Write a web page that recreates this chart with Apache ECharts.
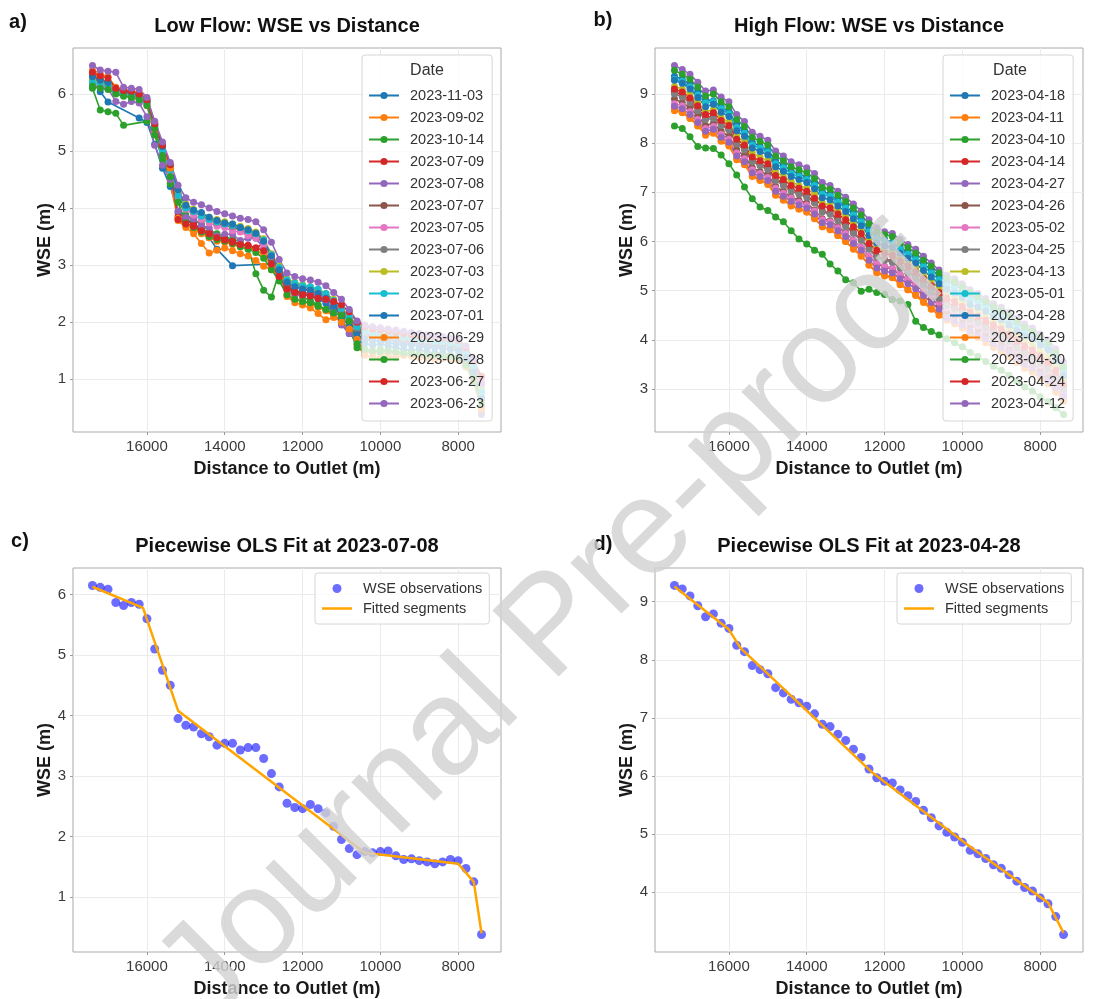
<!DOCTYPE html>
<html>
<head>
<meta charset="utf-8">
<script src="https://cdn.jsdelivr.net/npm/echarts@6/dist/echarts.min.js"></script>
<style>
  html, body { margin: 0; padding: 0; background: #ffffff; }
  #chart { width: 1103px; height: 999px; }
</style>
</head>
<body>
<div id="chart"></div>
<script>
// ---- River nodes: distance to outlet (m) ----
const distance = [17400,17200,17000,16800,16600,16400,16200,16000,15800,15600,
  15400,15200,15000,14800,14600,14400,14200,14000,13800,13600,
  13400,13200,13000,12800,12600,12400,12200,12000,11800,11600,
  11400,11200,11000,10800,10600,10400,10200,10000,9800,9600,
  9400,9200,9000,8800,8600,8400,8200,8000,7800,7600,7400];

const xTicks = [16000, 14000, 12000, 10000, 8000];
const yTicksLow = [1, 2, 3, 4, 5, 6];
const yTicksHigh = [3, 4, 5, 6, 7, 8, 9];
const yTicksFitLow = [1, 2, 3, 4, 5, 6];
const yTicksFitHigh = [4, 5, 6, 7, 8, 9];

// ---- Low flow water surface elevation (m) per date ----
const lowDates = ['2023-11-03','2023-09-02','2023-10-14','2023-07-09','2023-07-08',
  '2023-07-07','2023-07-05','2023-07-06','2023-07-03','2023-07-02',
  '2023-07-01','2023-06-29','2023-06-28','2023-06-27','2023-06-23'];

const low_20231103 = [6.22,6.04,5.86,null,null,null,5.58,5.50,5.12,4.70,
  4.38,3.92,3.80,3.74,3.62,3.48,3.28,null,2.99,null,
  null,null,null,3.02,2.84,2.62,2.55,2.50,2.46,2.40,
  2.33,2.15,1.98,1.80,1.68,1.62,1.60,1.62,1.58,1.55,
  1.52,1.50,1.52,1.48,1.45,1.46,1.42,1.40,1.30,1.05,0.62];
const low_20230902 = [6.35,6.28,6.20,6.02,5.98,5.95,5.92,5.80,5.30,4.90,
  4.45,3.78,3.66,3.55,3.38,3.21,3.26,3.30,3.25,3.20,
  3.16,3.08,2.98,2.92,2.78,2.45,2.34,2.30,2.25,2.15,
  2.04,2.08,2.02,1.85,1.60,1.42,1.38,1.37,1.40,1.38,
  1.42,1.40,1.38,1.36,1.35,1.38,1.36,1.33,1.25,0.98,0.45];
const low_20231014 = [6.10,5.72,5.69,5.66,5.45,null,null,5.52,5.28,4.85,
  4.42,4.15,3.88,3.80,3.72,3.60,3.55,3.50,3.45,3.42,
  3.30,2.85,2.56,2.44,2.88,2.62,2.50,2.44,2.38,2.30,
  2.22,2.12,2.02,1.88,1.55,1.50,1.48,1.52,1.50,1.46,
  1.44,1.45,1.42,1.40,1.41,1.38,1.40,1.36,1.22,0.95,0.50];
const low_20230709 = [6.28,6.24,6.18,6.05,6.00,6.02,5.96,5.85,5.42,5.02,
  4.65,3.85,3.78,3.72,3.62,3.58,3.50,3.46,3.42,3.36,
  3.35,3.30,3.38,3.10,2.88,2.62,2.55,2.52,2.50,2.42,
  2.40,2.30,2.18,2.02,1.86,1.78,1.75,1.72,1.74,1.70,
  1.68,1.66,1.65,1.62,1.60,1.62,1.58,1.55,1.42,1.18,0.92];
const low_20230708 = [6.15,6.12,6.09,5.87,5.82,5.87,5.84,5.60,5.10,4.75,
  4.50,3.95,3.84,3.81,3.70,3.65,3.51,3.54,3.54,3.43,
  3.47,3.47,3.29,3.04,2.82,2.55,2.48,2.46,2.53,2.46,
  2.39,2.17,1.95,1.80,1.70,1.75,1.73,1.75,1.76,1.68,
  1.62,1.63,1.60,1.58,1.55,1.58,1.62,1.60,1.47,1.25,0.38];
const low_20230707 = [6.32,6.26,6.20,6.08,6.02,6.04,5.98,5.86,5.40,5.05,
  4.68,4.25,4.02,3.92,3.86,3.80,3.72,3.70,3.66,3.62,
  3.55,3.50,3.40,3.12,2.90,2.68,2.62,2.58,2.55,2.52,
  2.44,2.30,2.16,2.00,1.85,1.76,1.74,1.72,1.70,1.68,
  1.66,1.65,1.62,1.60,1.58,1.60,1.56,1.55,1.40,1.15,0.62];
const low_20230705 = [6.18,6.14,6.12,6.05,6.00,5.98,5.95,5.85,5.48,4.98,
  4.62,4.20,3.98,3.88,3.80,3.74,3.68,3.66,3.60,3.58,
  3.52,3.48,3.36,3.15,2.92,2.70,2.64,2.60,2.58,2.52,
  2.46,2.34,2.22,2.06,1.90,1.82,1.80,1.78,1.76,1.74,
  1.72,1.70,1.70,1.68,1.66,1.65,1.64,1.62,1.50,1.28,0.98];
const low_20230706 = [6.26,6.22,6.18,6.06,6.04,6.02,5.98,5.88,5.44,5.06,
  4.70,4.28,4.02,3.95,3.90,3.82,3.75,3.74,3.68,3.66,
  3.60,3.56,3.44,3.18,2.94,2.72,2.66,2.62,2.60,2.55,
  2.48,2.36,2.22,2.04,1.88,1.80,1.78,1.75,1.74,1.72,
  1.70,1.68,1.66,1.65,1.62,1.62,1.60,1.58,1.45,1.18,0.70];
const low_20230703 = [6.24,6.20,6.16,6.04,6.00,5.98,5.94,5.86,5.46,5.06,
  4.72,4.30,4.08,3.98,3.90,3.84,3.80,3.76,3.72,3.68,
  3.64,3.58,3.46,3.20,2.98,2.76,2.70,2.66,2.62,2.56,
  2.50,2.40,2.26,2.10,1.94,1.86,1.84,1.82,1.80,1.78,
  1.76,1.74,1.72,1.70,1.68,1.68,1.66,1.64,1.52,1.30,0.85];
const low_20230702 = [6.20,6.18,6.14,6.02,5.98,5.96,5.92,5.84,5.44,5.00,
  4.66,4.22,4.00,3.94,3.86,3.80,3.76,3.72,3.70,3.66,
  3.60,3.55,3.44,3.18,2.96,2.74,2.68,2.64,2.62,2.58,
  2.50,2.38,2.24,2.08,1.92,1.84,1.82,1.80,1.78,1.76,
  1.74,1.72,1.70,1.69,1.66,1.66,1.64,1.62,1.48,1.22,0.78];
const low_20230701 = [6.30,6.24,6.20,6.08,6.04,6.02,5.96,5.88,5.46,5.08,
  4.74,4.32,4.05,3.96,3.92,3.84,3.78,3.74,3.72,3.66,
  3.62,3.56,3.42,3.16,2.92,2.70,2.62,2.58,2.56,2.50,
  2.42,2.28,2.10,1.92,1.78,1.70,1.68,1.66,1.64,1.62,
  1.60,1.60,1.58,1.56,1.55,1.54,1.52,1.50,1.38,1.12,0.66];
const low_20230629 = [6.42,6.36,6.30,6.12,6.08,6.06,6.02,5.92,5.50,5.12,
  4.70,3.82,3.70,3.62,3.55,3.48,3.42,3.40,3.36,3.32,
  3.30,3.26,3.18,2.98,2.78,2.48,2.40,2.36,2.32,2.26,
  2.20,2.10,2.00,1.88,1.70,1.48,1.46,1.45,1.46,1.44,
  1.42,1.42,1.40,1.38,1.38,1.36,1.35,1.34,1.22,1.00,0.48];
const low_20230628 = [6.14,6.10,6.08,6.00,5.96,5.94,5.90,5.80,5.40,4.92,
  4.55,4.10,3.74,3.66,3.58,3.50,3.45,3.42,3.38,3.32,
  3.28,3.22,3.12,2.92,2.72,2.48,2.40,2.36,2.34,2.28,
  2.22,2.16,2.12,2.02,1.62,1.52,1.50,1.48,1.50,1.48,
  1.46,1.45,1.44,1.42,1.42,1.40,1.40,1.38,1.25,1.02,0.58];
const low_20230627 = [6.38,6.32,6.28,6.10,6.06,6.05,6.00,5.90,5.48,5.10,
  4.76,3.80,3.72,3.68,3.60,3.55,3.48,3.44,3.40,3.36,
  3.34,3.30,3.25,3.02,2.80,2.58,2.52,2.48,2.46,2.42,
  2.40,2.36,2.30,2.18,2.00,1.92,1.88,1.86,1.84,1.82,
  1.80,1.78,1.76,1.75,1.74,1.72,1.70,1.68,1.55,1.32,1.05];
const low_20230623 = [6.50,6.42,6.40,6.38,6.12,6.10,6.08,5.94,5.52,5.16,
  4.80,4.40,4.18,4.10,4.06,4.00,3.94,3.90,3.86,3.82,
  3.80,3.76,3.62,3.40,3.10,2.86,2.80,2.76,2.74,2.70,
  2.64,2.52,2.40,2.22,2.02,1.95,1.92,1.90,1.88,1.86,
  1.84,1.82,1.80,1.78,1.76,1.75,1.72,1.70,1.58,1.35,0.92];

const lowValues = [low_20231103, low_20230902, low_20231014, low_20230709, low_20230708,
  low_20230707, low_20230705, low_20230706, low_20230703, low_20230702,
  low_20230701, low_20230629, low_20230628, low_20230627, low_20230623];

// ---- High flow water surface elevation (m) per date ----
const highDates = ['2023-04-18','2023-04-11','2023-04-10','2023-04-14','2023-04-27',
  '2023-04-26','2023-05-02','2023-04-25','2023-04-13','2023-05-01',
  '2023-04-28','2023-04-29','2023-04-30','2023-04-24','2023-04-12'];

const high_20230418 = [9.36,9.30,9.20,9.04,8.88,8.86,8.74,8.64,8.38,8.24,
  8.02,7.94,7.86,7.64,7.55,7.44,7.38,7.30,7.18,7.02,
  6.96,6.84,6.72,6.58,6.44,6.26,6.10,6.04,5.98,5.88,
  5.78,5.68,5.55,5.42,5.30,5.20,5.12,5.02,4.90,4.82,
  4.74,4.64,4.56,4.46,4.34,4.22,4.14,4.02,3.90,3.70,3.42];
const high_20230411 = [8.66,8.62,8.50,8.35,8.20,8.22,8.06,7.96,7.70,7.58,
  7.36,7.25,7.18,6.96,6.86,6.74,6.66,6.60,6.46,6.30,
  6.24,6.12,6.00,5.84,5.70,5.52,5.38,5.32,5.28,5.14,
  5.02,4.92,4.80,4.66,4.54,4.48,4.40,4.30,4.18,4.10,
  4.00,3.90,3.82,3.72,3.60,3.48,3.40,3.28,3.16,2.98,2.80];
const high_20230410 = [8.35,8.30,8.13,7.93,7.90,7.89,7.76,7.58,7.35,7.11,
  6.87,6.70,6.63,6.50,6.40,6.22,6.05,5.95,5.82,5.74,
  5.54,5.40,5.22,5.16,4.99,5.03,4.96,4.92,4.82,4.79,
  4.72,4.38,4.25,4.17,4.10,4.02,3.94,3.86,3.74,3.66,
  3.56,3.46,3.38,3.28,3.16,3.04,2.96,2.84,2.74,2.62,2.48];
const high_20230414 = [9.05,8.98,8.88,8.70,8.52,8.55,8.40,8.28,8.02,7.90,
  7.66,7.58,7.50,7.28,7.18,7.06,7.00,6.94,6.80,6.62,
  6.58,6.45,6.34,6.18,6.04,5.86,5.70,5.64,5.60,5.48,
  5.38,5.28,5.14,5.00,4.86,4.76,4.68,4.58,4.46,4.38,
  4.30,4.20,4.12,4.02,3.90,3.78,3.70,3.58,3.46,3.28,3.05];
const high_20230427 = [9.58,9.50,9.40,9.24,9.06,9.08,8.94,8.84,8.58,8.44,
  8.22,8.14,8.06,7.84,7.74,7.62,7.56,7.50,7.38,7.20,
  7.14,7.02,6.90,6.76,6.62,6.44,6.28,6.20,6.16,6.04,
  5.94,5.84,5.70,5.56,5.42,5.32,5.24,5.14,5.02,4.94,
  4.84,4.74,4.66,4.56,4.44,4.32,4.24,4.12,4.00,3.82,3.55];
const high_20230426 = [8.90,8.82,8.72,8.55,8.36,8.40,8.24,8.14,7.86,7.74,
  7.50,7.42,7.36,7.12,7.02,6.90,6.84,6.78,6.64,6.46,
  6.42,6.30,6.18,6.02,5.88,5.70,5.54,5.48,5.44,5.32,
  5.22,5.12,4.98,4.84,4.70,4.58,4.50,4.42,4.30,4.22,
  4.12,4.02,3.94,3.84,3.72,3.60,3.52,3.40,3.28,3.10,2.90];
const high_20230502 = [8.80,8.76,8.64,8.48,8.30,8.34,8.18,8.08,7.80,7.68,
  7.46,7.38,7.30,7.08,6.98,6.88,6.80,6.74,6.62,6.44,
  6.40,6.28,6.16,6.02,5.88,5.70,5.56,5.50,5.46,5.34,
  5.24,5.14,5.02,4.90,4.76,4.65,4.58,4.48,4.36,4.28,
  4.20,4.10,4.02,3.92,3.80,3.68,3.60,3.48,3.36,3.18,2.95];
const high_20230425 = [9.00,8.94,8.82,8.66,8.48,8.50,8.36,8.26,7.98,7.86,
  7.62,7.54,7.46,7.24,7.14,7.02,6.96,6.90,6.78,6.60,
  6.56,6.42,6.30,6.16,6.02,5.84,5.68,5.62,5.58,5.46,
  5.36,5.26,5.12,4.98,4.84,4.70,4.62,4.54,4.42,4.34,
  4.24,4.14,4.06,3.96,3.84,3.72,3.64,3.52,3.40,3.22,3.00];
const high_20230413 = [9.15,9.10,8.98,8.82,8.64,8.68,8.52,8.42,8.14,8.02,
  7.80,7.72,7.64,7.42,7.32,7.22,7.14,7.08,6.96,6.78,
  6.74,6.62,6.50,6.36,6.22,6.04,5.88,5.82,5.78,5.66,
  5.56,5.46,5.32,5.18,5.06,4.95,4.88,4.78,4.66,4.58,
  4.50,4.40,4.32,4.22,4.10,3.98,3.90,3.78,3.66,3.46,3.20];
const high_20230501 = [9.30,9.26,9.14,8.98,8.82,8.84,8.70,8.60,8.32,8.20,
  7.96,7.90,7.82,7.58,7.50,7.38,7.32,7.26,7.14,6.96,
  6.92,6.80,6.68,6.54,6.40,6.20,6.06,6.00,5.96,5.84,
  5.74,5.64,5.50,5.36,5.22,5.10,5.04,4.94,4.82,4.76,
  4.66,4.56,4.48,4.38,4.26,4.14,4.08,3.96,3.84,3.64,3.35];
const high_20230428 = [9.28,9.22,9.10,8.93,8.74,8.79,8.63,8.54,8.25,8.14,
  7.90,7.83,7.76,7.52,7.43,7.32,7.26,7.20,7.07,6.89,
  6.85,6.72,6.61,6.46,6.32,6.12,5.97,5.91,5.88,5.76,
  5.66,5.56,5.41,5.28,5.14,5.03,4.95,4.86,4.72,4.66,
  4.58,4.47,4.41,4.30,4.19,4.08,4.02,3.90,3.80,3.58,3.27];
const high_20230429 = [8.70,8.64,8.52,8.36,8.16,8.20,8.04,7.94,7.66,7.56,
  7.32,7.24,7.16,6.94,6.84,6.72,6.66,6.60,6.48,6.30,
  6.26,6.12,6.00,5.86,5.72,5.52,5.36,5.30,5.26,5.12,
  5.02,4.90,4.76,4.62,4.50,4.40,4.32,4.24,4.12,4.04,
  3.94,3.84,3.76,3.66,3.54,3.42,3.34,3.22,3.10,2.94,2.75];
const high_20230430 = [9.48,9.40,9.30,9.14,8.96,9.00,8.84,8.74,8.48,8.34,
  8.12,8.04,7.96,7.74,7.64,7.52,7.46,7.40,7.28,7.10,
  7.06,6.94,6.82,6.68,6.54,6.36,6.20,6.14,6.10,5.98,
  5.88,5.76,5.62,5.50,5.36,5.25,5.18,5.08,4.96,4.88,
  4.78,4.68,4.60,4.50,4.38,4.26,4.18,4.06,3.94,3.74,3.45];
const high_20230424 = [9.10,9.04,8.92,8.76,8.58,8.62,8.46,8.36,8.08,7.96,
  7.72,7.64,7.58,7.34,7.26,7.14,7.08,7.02,6.88,6.72,
  6.68,6.56,6.44,6.30,6.16,5.96,5.82,5.76,5.72,5.60,
  5.50,5.38,5.24,5.10,4.96,4.85,4.78,4.68,4.56,4.48,
  4.40,4.30,4.22,4.12,4.00,3.88,3.80,3.68,3.56,3.38,3.10];
const high_20230412 = [8.75,8.70,8.58,8.42,8.24,8.28,8.12,8.02,7.74,7.62,
  7.40,7.32,7.24,7.02,6.92,6.82,6.74,6.68,6.56,6.38,
  6.34,6.22,6.10,5.96,5.82,5.62,5.46,5.40,5.36,5.24,
  5.14,5.04,4.90,4.76,4.62,4.45,4.38,4.30,4.18,4.10,
  4.02,3.92,3.84,3.74,3.62,3.50,3.42,3.30,3.18,3.02,2.85];

const highValues = [high_20230418, high_20230411, high_20230410, high_20230414, high_20230427,
  high_20230426, high_20230502, high_20230425, high_20230413, high_20230501,
  high_20230428, high_20230429, high_20230430, high_20230424, high_20230412];

// ---- Piecewise OLS fits (segment end points) ----
const fitLowDist = [17400, 16100, 15200, 10400, 8000, 7600, 7400];
const fitLowWse = [6.13, 5.78, 4.08, 1.73, 1.55, 1.25, 0.40];
const fitHighDist = [17400, 16000, 15700, 12300, 9800, 7800, 7400];
const fitHighWse = [9.26, 8.52, 8.20, 6.05, 4.78, 3.82, 3.30];

// ---- Styling ----
const FONT = '"Liberation Sans", Arial, sans-serif';
const tab10 = ['#1f77b4','#ff7f0e','#2ca02c','#d62728','#9467bd',
               '#8c564b','#e377c2','#7f7f7f','#bcbd22','#17becf'];
const PW = 428, PH = 384;
const gridBoxes = [
  { left: 73,  top: 48 },
  { left: 655, top: 48 },
  { left: 73,  top: 568 },
  { left: 655, top: 568 }
];
const yRanges = [
  { min: 0.074, max: 6.806, ticks: yTicksLow },
  { min: 2.125, max: 9.935, ticks: yTicksHigh },
  { min: 0.09,  max: 6.44,  ticks: yTicksFitLow },
  { min: 2.97,  max: 9.58,  ticks: yTicksFitHigh }
];

function pairs(xs, ys) {
  const out = [];
  for (let i = 0; i < xs.length; i++) {
    if (ys[i] !== null && ys[i] !== undefined) out.push([xs[i], ys[i]]);
  }
  return out;
}

const grids = gridBoxes.map(g => ({
  left: g.left, top: g.top, width: PW, height: PH,
  show: true, borderColor: '#a9a9a9', borderWidth: 1, backgroundColor: '#ffffff'
}));

const xAxes = gridBoxes.map((g, i) => ({
  type: 'value', gridIndex: i, inverse: true, min: 6900, max: 17900,
  name: 'Distance to Outlet (m)', nameLocation: 'middle', nameGap: 28,
  nameTextStyle: { fontSize: 18, fontWeight: 'bold', color: '#1a1a1a', fontFamily: FONT },
  axisLine: { show: false },
  axisTick: { show: true, length: 3, customValues: xTicks, lineStyle: { color: '#9a9a9a' } },
  axisLabel: { customValues: xTicks, formatter: v => String(v), fontSize: 15,
               color: '#3a3a3a', margin: 7, fontFamily: FONT },
  splitLine: { show: true, lineStyle: { color: '#ebebeb', width: 1 } }
}));

const yAxes = yRanges.map((r, i) => ({
  type: 'value', gridIndex: i, min: r.min, max: r.max,
  name: 'WSE (m)', nameLocation: 'middle', nameGap: 19,
  nameTextStyle: { fontSize: 18, fontWeight: 'bold', color: '#1a1a1a', fontFamily: FONT },
  axisLine: { show: false },
  axisTick: { show: true, length: 3, customValues: r.ticks, lineStyle: { color: '#9a9a9a' } },
  axisLabel: { customValues: r.ticks, formatter: v => String(v), fontSize: 15,
               color: '#3a3a3a', margin: 7, fontFamily: FONT },
  splitLine: { show: true, lineStyle: { color: '#ebebeb', width: 1 } }
}));

const series = [];
function addProfiles(dates, values, gridIdx) {
  dates.forEach((d, k) => {
    const c = tab10[k % 10];
    series.push({
      name: d, type: 'line', xAxisIndex: gridIdx, yAxisIndex: gridIdx,
      data: pairs(distance, values[k]),
      symbol: 'circle', symbolSize: 7, showSymbol: true,
      lineStyle: { width: 1.6, color: c }, itemStyle: { color: c },
      emphasis: { disabled: true }, animation: false
    });
  });
}
addProfiles(lowDates, lowValues, 0);
addProfiles(highDates, highValues, 1);

function addFit(obs, fx, fy, gridIdx) {
  series.push({
    name: 'WSE observations', type: 'scatter', xAxisIndex: gridIdx, yAxisIndex: gridIdx,
    data: pairs(distance, obs), symbol: 'circle', symbolSize: 9,
    itemStyle: { color: 'rgba(0,0,255,0.72)' }, emphasis: { disabled: true }, animation: false, z: 2
  });
  series.push({
    name: 'Fitted segments', type: 'line', xAxisIndex: gridIdx, yAxisIndex: gridIdx,
    data: pairs(fx, fy), symbol: 'none', showSymbol: false,
    lineStyle: { width: 2.5, color: '#ffa500' }, itemStyle: { color: '#ffa500' },
    emphasis: { disabled: true }, animation: false, z: 3
  });
}
addFit(low_20230708, fitLowDist, fitLowWse, 2);
addFit(high_20230428, fitHighDist, fitHighWse, 3);

const dateLegend = (names, left) => ({
  orient: 'vertical', left: left, top: 55, data: names, selectedMode: false,
  padding: [32, 8, 9, 6], itemWidth: 30, itemHeight: 9, itemGap: 5,
  backgroundColor: 'rgba(255,255,255,0.8)', borderColor: '#d6d6d6', borderWidth: 1, borderRadius: 3,
  textStyle: { fontSize: 14.5, lineHeight: 17, color: '#333', fontFamily: FONT, padding: [0, 0, 0, 6] }
});
const fitLegend = (left) => ({
  orient: 'vertical', left: left, top: 573, selectedMode: false,
  data: [{ name: 'WSE observations', icon: 'circle' },
         { name: 'Fitted segments', icon: 'path://M0,0 L30,0 L30,2.5 L0,2.5 Z' }],
  padding: [7, 7, 7, 7], itemWidth: 30, itemHeight: 9, itemGap: 3,
  backgroundColor: 'rgba(255,255,255,0.8)', borderColor: '#d6d6d6', borderWidth: 1, borderRadius: 3,
  textStyle: { fontSize: 14.5, lineHeight: 17, color: '#333', fontFamily: FONT, padding: [0, 0, 0, 6] }
});

function label(text, x, y, size, weight, color, extra) {
  return Object.assign({
    type: 'text', x: x, y: y, z: 50,
    style: { text: text, font: weight + ' ' + size + 'px ' + FONT, fill: color,
             textAlign: 'center', textVerticalAlign: 'middle' }
  }, extra || {});
}

const graphics = [
  label('Low Flow: WSE vs Distance', 287, 26, 20, 'bold', '#111'),
  label('High Flow: WSE vs Distance', 869, 26, 20, 'bold', '#111'),
  label('Piecewise OLS Fit at 2023-07-08', 287, 546, 20, 'bold', '#111'),
  label('Piecewise OLS Fit at 2023-04-28', 869, 546, 20, 'bold', '#111'),
  label('a)', 18, 22, 20, 'bold', '#111'),
  label('b)', 603, 20, 20, 'bold', '#111'),
  label('c)', 20, 541, 20, 'bold', '#111'),
  label('d)', 603, 544, 20, 'bold', '#111'),
  label('Date', 427, 71, 16, 'normal', '#333'),
  label('Date', 1010, 71, 16, 'normal', '#333'),
  // diagonal "Journal Pre-proof" stamp across the page
  {
    type: 'text', x: 182, y: 1000, z: 100, rotation: Math.PI / 4,
    style: { text: 'Journal Pre-proof', font: 'normal 136px ' + FONT,
             fill: 'rgba(210,210,210,0.82)', textAlign: 'left', textVerticalAlign: 'middle' }
  }
];

const chart = echarts.init(document.getElementById('chart'), null, { renderer: 'canvas' });
chart.setOption({
  animation: false,
  backgroundColor: '#ffffff',
  textStyle: { fontFamily: FONT },
  grid: grids,
  xAxis: xAxes,
  yAxis: yAxes,
  legend: [dateLegend(lowDates, 362), dateLegend(highDates, 943), fitLegend(315), fitLegend(897)],
  series: series,
  graphic: { elements: graphics }
});
</script>
</body>
</html>
